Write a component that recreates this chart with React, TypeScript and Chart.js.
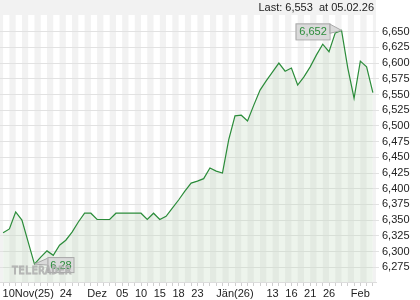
import { useEffect, useRef } from 'react';
import { Chart, registerables } from 'chart.js';
Chart.register(...registerables);

// one value per trading day, 10 Nov 2025 .. 05 Feb 2026
const values = [
  6.330, 6.336, 6.363, 6.350, 6.315, 6.280, 6.291, 6.301, 6.294, 6.310,
  6.318, 6.331, 6.347, 6.361, 6.361, 6.351, 6.351, 6.351, 6.361, 6.361,
  6.361, 6.361, 6.361, 6.351, 6.361, 6.351, 6.356, 6.369, 6.382, 6.396,
  6.409, 6.412, 6.416, 6.433, 6.428, 6.425, 6.478, 6.516, 6.517, 6.508,
  6.533, 6.557, 6.572, 6.586, 6.600, 6.587, 6.592, 6.565, 6.578, 6.594,
  6.613, 6.630, 6.618, 6.648, 6.652, 6.592, 6.544, 6.603, 6.594, 6.553,
];
const tickIndex = [4, 10, 15, 19, 22, 25, 28, 31, 37, 43, 46, 49, 52, 57];
const tickText = ['10Nov(25)', '24', 'Dez', '05', '10', '15', '18', '23', 'Jän(26)', '13', '16', '21', '26', 'Feb'];
const yTicks = [6.275, 6.3, 6.325, 6.35, 6.375, 6.4, 6.425, 6.45, 6.475, 6.5, 6.525, 6.55, 6.575, 6.6, 6.625, 6.65];
const lastDate = '05.02.26';

const fmt = (v: number) => v.toFixed(3).replace('.', ',');
const fmtShort = (v: number) => v.toFixed(3).replace(/0+$/, '').replace('.', ',');

const FONT = '"Liberation Sans", Arial, sans-serif';
const GREEN = '#2b8c3a';

export default function App() {
  const ref = useRef<HTMLCanvasElement | null>(null);
  useEffect(() => {
    if (!ref.current) return;
    Chart.defaults.font.family = FONT;
    const bg = {
      id: 'bg',
      beforeDraw(chart: any) {
        const { ctx, chartArea: a, scales } = chart;
        const xs = scales.x;
        ctx.save();
        ctx.fillStyle = '#f2f2f2';
        ctx.fillRect(0, 0, a.right, a.bottom);
        ctx.fillStyle = '#ffffff';
        for (let k = 0; k < values.length - 1; k += 2) {
          const x0 = xs.getPixelForValue(k);
          const x1 = xs.getPixelForValue(k + 1);
          ctx.fillRect(x0, a.top, x1 - x0, a.bottom - a.top);
        }
        ctx.restore();
      },
    };
    const deco = {
      id: 'deco',
      afterDatasetsDraw(chart: any) {
        const { ctx, chartArea: a, scales } = chart;
        const xs = scales.x, ys = scales.y;
        ctx.save();
        // header
        ctx.font = '11px ' + FONT;
        ctx.fillStyle = '#222';
        ctx.textAlign = 'right';
        ctx.textBaseline = 'alphabetic';
        ctx.fillText('Last: ' + fmt(values[values.length - 1]) + '  at ' + lastDate, a.right - 2, 11);

        const maxV = Math.max(...values), minV = Math.min(...values);
        const iMax = values.indexOf(maxV), iMin = values.indexOf(minV);
        const drawBox = (l: number, t: number, w: number, h: number, pts: number[][], text: string) => {
          ctx.beginPath();
          ctx.moveTo(pts[0][0], pts[0][1]);
          for (let i = 1; i < pts.length; i++) ctx.lineTo(pts[i][0], pts[i][1]);
          ctx.closePath();
          ctx.fillStyle = '#dadada';
          ctx.fill();
          ctx.strokeStyle = '#a8a8a8';
          ctx.lineWidth = 1;
          ctx.stroke();
          ctx.fillStyle = '#dadada';
          ctx.fillRect(l, t, w, h);
          ctx.strokeRect(l + 0.5, t + 0.5, w, h);
          ctx.fillStyle = GREEN;
          ctx.font = '11px ' + FONT;
          ctx.textAlign = 'center';
          ctx.textBaseline = 'middle';
          ctx.fillText(text, l + w / 2 + 0.5, t + h / 2 + 1);
        };
        // max label
        const px = xs.getPixelForValue(iMax), py = ys.getPixelForValue(maxV);
        const bw = 34, bh = 16;
        const bl = px - 12 - bw, bt = py - 7;
        drawBox(bl, bt, bw, bh, [[bl + bw, bt + 0.5], [px, py], [bl + bw, bt + 10]], fmt(maxV));
        // min label
        const qx = xs.getPixelForValue(iMin), qy = ys.getPixelForValue(minV);
        const cw = 26, ch = 15;
        const cl = qx + 13, ct = qy - 7;
        drawBox(cl, ct, cw, ch, [[cl + 0.5, ct + 1], [qx, qy], [cl + 0.5, ct + 8]], fmtShort(minV));
        // watermark
        ctx.font = '10px "DejaVu Sans Mono", monospace';
        (ctx as any).letterSpacing = '0.6px';
        ctx.textAlign = 'left';
        ctx.textBaseline = 'alphabetic';
        ctx.lineWidth = 1;
        ctx.strokeStyle = 'rgba(160,160,160,0.75)';
        ctx.fillStyle = 'rgba(255,255,255,0.7)';
        ctx.fillText('TELERADER', 12, a.bottom - 8);
        ctx.strokeText('TELERADER', 12, a.bottom - 8);
        ctx.restore();
      },
    };
    const chart = new Chart(ref.current, {
      type: 'line',
      data: {
        datasets: [
          {
            data: values.map((v, i) => ({ x: i, y: v })),
            borderColor: GREEN,
            borderWidth: 1.2,
            backgroundColor: 'rgba(190,215,185,0.28)',
            fill: 'start',
            pointRadius: 0,
            tension: 0,
          },
        ],
      },
      options: {
        animation: false,
        responsive: false,
        layout: { padding: { top: 15, left: 0, right: 0, bottom: 0 } },
        plugins: { legend: { display: false }, tooltip: { enabled: false }, title: { display: false } },
        scales: {
          x: {
            type: 'linear',
            min: -0.5,
            max: values.length - 0.5,
            afterBuildTicks: (s: any) => {
              s.ticks = values.map((_, i) => ({ value: i }));
            },
            afterFit: (s: any) => {
              s.height = 18;
            },
            ticks: {
              autoSkip: false,
              maxRotation: 0,
              minRotation: 0,
              padding: 1,
              color: '#222',
              font: { size: 11 },
              callback: (v: any) => {
                const k = tickIndex.indexOf(v);
                return k >= 0 ? tickText[k] : '';
              },
            },
            grid: { drawOnChartArea: false, drawTicks: true, tickLength: 4, color: '#cfcfcf' },
            border: { display: true, color: '#dddddd' },
          },
          y: {
            position: 'right',
            min: 6.2515,
            max: 6.6765,
            afterBuildTicks: (s: any) => {
              s.ticks = yTicks.map((v) => ({ value: v }));
            },
            afterFit: (s: any) => {
              s.width = 44;
            },
            ticks: {
              padding: 3,
              color: '#222',
              font: { size: 11 },
              callback: (v: any) => fmt(Number(v)),
            },
            grid: { color: '#e2e2e2', tickLength: 3 },
            border: { display: false },
          },
        },
      },
      plugins: [bg, deco],
    } as any);
    return () => chart.destroy();
  }, []);
  return (
    <div style={{ position: 'fixed', left: 0, top: 0, width: 420, height: 300, background: '#fff' }}>
      <canvas ref={ref} width={420} height={300} />
    </div>
  );
}
